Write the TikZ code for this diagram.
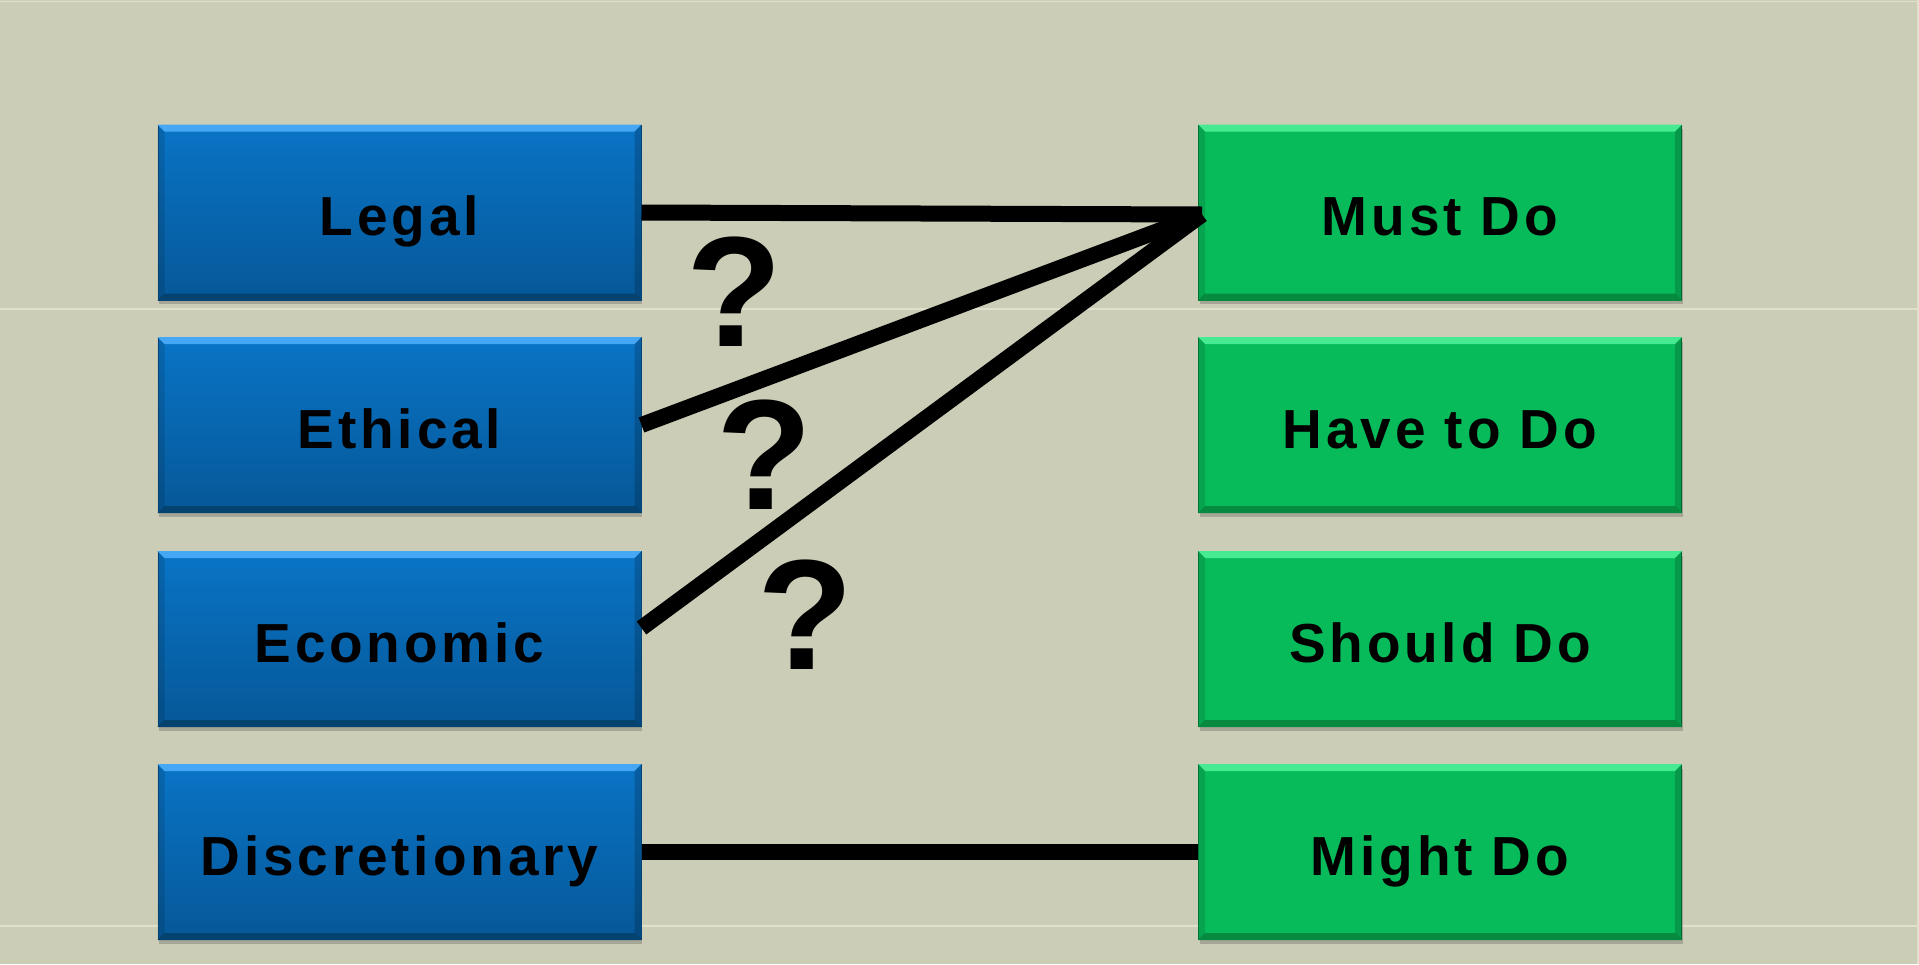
\documentclass[tikz,border=0pt]{standalone}
\usepackage{fontspec}
\setmainfont{Liberation Sans}
\newfontfamily\boxfont[LetterSpace=7]{Liberation Sans}
\usetikzlibrary{calc,shadows}

\definecolor{bg}{RGB}{204,205,183}
\definecolor{rule}{RGB}{224,224,204}
\definecolor{blueTop}{RGB}{9,116,198}
\definecolor{blueBot}{RGB}{6,88,152}
\definecolor{blueHi}{RGB}{70,168,245}
\definecolor{blueLo}{RGB}{4,66,112}
\definecolor{blueEdge}{RGB}{5,78,135}
\definecolor{greenFill}{RGB}{7,187,90}
\definecolor{greenHi}{RGB}{70,235,145}
\definecolor{greenLo}{RGB}{5,138,64}
\definecolor{greenEdge}{RGB}{4,128,60}

% bevelled rim drawn around a box node
\newcommand\rimbox[3]{%
  \fill[#2] (#1.north west) -- (#1.north east) -- ($(#1.north east)+(-7,7)$) -- ($(#1.north west)+(7,7)$) -- cycle;
  \fill[#3] (#1.south west) -- (#1.south east) -- ($(#1.south east)+(-7,-7)$) -- ($(#1.south west)+(7,-7)$) -- cycle;
  \fill[black,opacity=0.12] (#1.north west) -- ($(#1.north west)+(7,7)$) -- ($(#1.south west)+(7,-7)$) -- (#1.south west) -- cycle;
  \fill[black,opacity=0.18] (#1.north east) -- ($(#1.north east)+(-7,7)$) -- ($(#1.south east)+(-7,-7)$) -- (#1.south east) -- cycle;
}

\tikzset{
  tile/.style={minimum width=483pt, minimum height=175pt, inner sep=0pt,
    text height=46pt, text depth=0pt, line width=1pt,
    font=\boxfont\bfseries\fontsize{55}{60}\selectfont, text=black,
    drop shadow={shadow xshift=1pt, shadow yshift=-4pt, opacity=0.3, fill=black!70}},
  bluetile/.style={tile, draw=blueEdge, top color=blueTop, bottom color=blueBot},
  greentile/.style={tile, draw=greenEdge, fill=greenFill},
  conn/.style={line width=16pt, black},
  query/.style={inner sep=0pt, font=\bfseries\fontsize{157}{160}\selectfont}
}

\begin{document}
\begin{tikzpicture}[x=1pt,y=-1pt]
  % backdrop
  \fill[bg] (0,0) rectangle (1919,964);
  \useasboundingbox (0,0) rectangle (1919,964);
  \draw[rule, line width=1.5pt] (0,309) -- (1919,309);
  \draw[rule, line width=1.5pt] (0,926) -- (1919,926);
  \draw[rule, line width=1.5pt] (0,1.5) -- (1919,1.5);
  \draw[rule, line width=1.5pt] (1918,0) -- (1918,964);

  % categories
  \node[bluetile] (legal) at (399.5,212.5) {Legal};
  \node[bluetile] (ethical) at (399.5,425) {Ethical};
  \node[bluetile] (econ) at (399.5,639) {Economic};
  \node[bluetile] (disc) at (399.5,852) {Discretionary};

  % obligations
  \node[greentile] (must) at (1440,212.5) {Must Do};
  \node[greentile] (have) at (1440,425) {Have to Do};
  \node[greentile] (should) at (1440,639) {Should Do};
  \node[greentile] (might) at (1440,852) {Might Do};

  \foreach \n in {legal,ethical,econ,disc} {\rimbox{\n}{blueHi}{blueLo}}
  \foreach \n in {must,have,should,might} {\rimbox{\n}{greenHi}{greenLo}}

  % connectors
  \coordinate (hub) at ($(must.west)+(4,2)$);
  \coordinate (econstart) at ($(econ.east)+(0,-11)$);
  \draw[conn] (legal.east) -- (hub);
  \draw[conn] (ethical.east) -- (hub);
  \draw[conn] (econstart) -- (hub);
  \draw[conn] (disc.east) -- (might.west);

  % question marks
  \node[query] (q1) at (734,292) {?};
  \node[query] (q2) at (764,455) {?};
  \node[query] (q3) at (805,615) {?};
\end{tikzpicture}
\end{document}
